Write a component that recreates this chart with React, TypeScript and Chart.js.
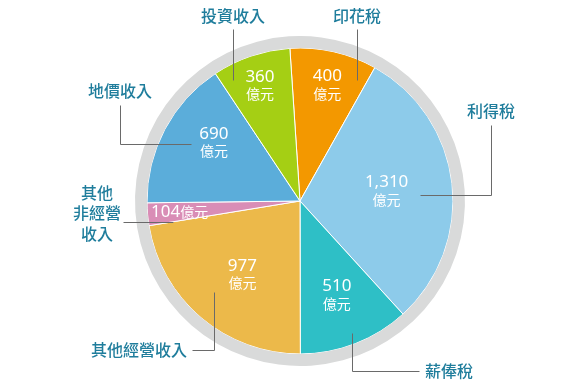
import React, { useEffect, useRef } from "react";
import { Chart, registerables } from "chart.js";

Chart.register(...registerables);

// ---- data ----
const categories = ["印花稅", "利得稅", "薪俸稅", "其他經營收入", "其他非經營收入", "地價收入", "投資收入"];
const categoryDisplay = ["印花稅", "利得稅", "薪俸稅", "其他經營收入", "其他\n非經營\n收入", "地價收入", "投資收入"];
const values = [400, 1310, 510, 977, 104, 690, 360];
const valueLabels = ["400", "1,310", "510", "977", "104", "690", "360"];
const unit = "億元";

// ---- styles ----
const colors = ["#f39800", "#8dcbea", "#2ebfc6", "#ecb94a", "#d98db6", "#5badda", "#a5cf14"];
const ringColor = "#d9dada";
const labelColor = "#1f7d9c";
const lineColor = "#6a6a6a";

// value label placement: fraction of radius and angle tweak (deg, clockwise)
const valueLayout = [
  { frac: 0.78, tweak: 0.5, inline: false },
  { frac: 0.57, tweak: -0.2, inline: false },
  { frac: 0.66, tweak: -0.2, inline: false },
  { frac: 0.61, tweak: -2.2, inline: false },
  { frac: 0.79, tweak: -0.6, inline: true },
  { frac: 0.68, tweak: 6.3, inline: false },
  { frac: 0.8, tweak: -0.4, inline: false },
];

// callouts, offsets relative to the pie centre
type Callout = { text: [number, number]; align: CanvasTextAlign; line: [number, number][] };
const callouts: Callout[] = [
  { text: [57, -185], align: "center", line: [[57, -172], [57, -121]] },
  { text: [191, -90], align: "center", line: [[191, -76], [191, -6], [120, -6]] },
  { text: [125, 170], align: "left", line: [[52, 132], [52, 170], [119, 170]] },
  { text: [-113, 149], align: "right", line: [[-86, 91], [-86, 149], [-108, 149]] },
  { text: [-203, 12], align: "center", line: [[-177, 21], [-127, 21]] },
  { text: [-180, -110], align: "center", line: [[-180, -96], [-180, -57], [-109, -57]] },
  { text: [-67, -185], align: "center", line: [[-67, -172], [-67, -121]] },
];

const CJK = '"Noto Sans CJK TC", "Noto Sans", sans-serif';
const NUM = '"Noto Sans", "Noto Sans CJK TC", sans-serif';

const labelPlugin = {
  id: "pieLabels",
  afterDatasetsDraw(chart: any) {
    const ctx: CanvasRenderingContext2D = chart.ctx;
    const meta = chart.getDatasetMeta(1);
    ctx.save();
    // leader lines
    meta.data.forEach((arc: any, i: number) => {
      const c = callouts[i];
      const cx = arc.x, cy = arc.y;
      ctx.strokeStyle = lineColor;
      ctx.lineWidth = 1;
      ctx.beginPath();
      c.line.forEach((p, k) => {
        const x = Math.round(cx + p[0]) + 0.5;
        const y = Math.round(cy + p[1]) + 0.5;
        if (k === 0) ctx.moveTo(x, y);
        else ctx.lineTo(x, y);
      });
      ctx.stroke();
    });
    // value labels
    meta.data.forEach((arc: any, i: number) => {
      const p = arc.getProps(["x", "y", "startAngle", "endAngle", "outerRadius"], true);
      const L = valueLayout[i];
      const mid = (p.startAngle + p.endAngle) / 2 + (L.tweak * Math.PI) / 180;
      const r = p.outerRadius * L.frac;
      const x = p.x + r * Math.cos(mid);
      const y = p.y + r * Math.sin(mid);
      ctx.fillStyle = "#ffffff";
      ctx.textBaseline = "middle";
      if (L.inline) {
        ctx.font = `17px ${NUM}`;
        const w1 = ctx.measureText(valueLabels[i]).width;
        ctx.font = `14px ${CJK}`;
        const w2 = ctx.measureText(unit).width;
        const x0 = x - (w1 + w2) / 2;
        ctx.textAlign = "left";
        ctx.font = `17px ${NUM}`;
        ctx.fillText(valueLabels[i], x0, y - 1);
        ctx.font = `14px ${CJK}`;
        ctx.fillText(unit, x0 + w1, y - 1);
      } else {
        ctx.textAlign = "center";
        ctx.font = `17px ${NUM}`;
        ctx.fillText(valueLabels[i], x, y - 8.5);
        ctx.font = `14px ${CJK}`;
        ctx.fillText(unit, x, y + 8.5);
      }
    });
    // category labels
    meta.data.forEach((arc: any, i: number) => {
      const c = callouts[i];
      const lines = categoryDisplay[i].split("\n");
      ctx.fillStyle = labelColor;
      ctx.font = `500 16px ${CJK}`;
      ctx.textAlign = c.align;
      ctx.textBaseline = "middle";
      const lh = 20.5;
      const y0 = arc.y + c.text[1] - ((lines.length - 1) * lh) / 2;
      lines.forEach((t, k) => ctx.fillText(t, arc.x + c.text[0], y0 + k * lh));
    });
    ctx.restore();
  },
};

export default function App() {
  const ref = useRef<HTMLCanvasElement | null>(null);
  useEffect(() => {
    if (!ref.current) return;
    const chart = new Chart(ref.current, {
      type: "doughnut",
      data: {
        labels: categories,
        datasets: [
          { data: [1], backgroundColor: [ringColor], borderWidth: 0, weight: 12 } as any,
          {
            data: values,
            backgroundColor: colors,
            borderColor: "#ffffff",
            borderWidth: 1,
            weight: 153,
          } as any,
        ],
      },
      options: {
        responsive: false,
        animation: false,
        cutout: 0,
        rotation: -3.8,
        layout: { padding: { left: 135, right: 115, top: 36, bottom: 19 } },
        plugins: { legend: { display: false }, tooltip: { enabled: false } },
        events: [],
      } as any,
      plugins: [labelPlugin],
    });
    return () => chart.destroy();
  }, []);
  return (
    <div style={{ position: "absolute", left: 0, top: 0, width: 580, height: 385, background: "#fff" }}>
      <canvas ref={ref} width={580} height={385} style={{ width: 580, height: 385, display: "block" }} />
    </div>
  );
}
